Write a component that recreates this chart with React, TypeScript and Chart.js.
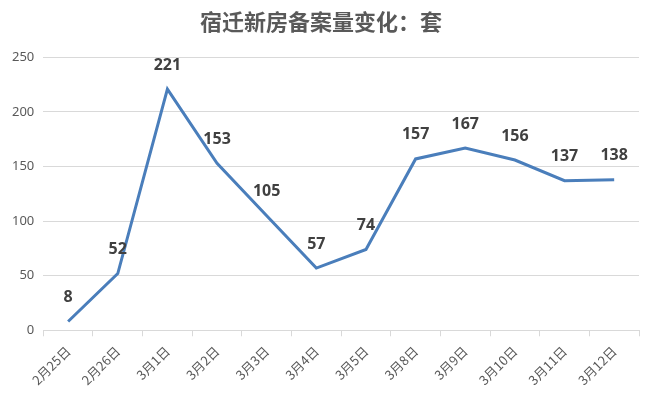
import React, { useEffect, useRef } from "react";
import { Chart, registerables } from "chart.js";

Chart.register(...registerables);

const categories = ["2月25日", "2月26日", "3月1日", "3月2日", "3月3日", "3月4日", "3月5日", "3月8日", "3月9日", "3月10日", "3月11日", "3月12日"];
const values = [8, 52, 221, 153, 105, 57, 74, 157, 167, 156, 137, 138];
const yTicks = [0, 50, 100, 150, 200, 250];
const titleText = "宿迁新房备案量变化：套";

const labelPlugin = {
  id: "valueLabels",
  afterDatasetsDraw(chart: any) {
    const ctx = chart.ctx;
    const meta = chart.getDatasetMeta(0);
    ctx.save();
    ctx.font = "bold 16px 'Noto Sans', 'DejaVu Sans', sans-serif";
    ctx.fillStyle = "#404040";
    ctx.textAlign = "center";
    ctx.textBaseline = "middle";
    meta.data.forEach((pt: any, i: number) => {
      ctx.fillText(String(values[i]), pt.x, pt.y - 24);
    });
    ctx.restore();
  },
};

export default function App() {
  const ref = useRef<HTMLCanvasElement | null>(null);
  useEffect(() => {
    document.body.style.margin = "0";
    const chart = new Chart(ref.current!, {
      type: "line",
      data: {
        labels: categories,
        datasets: [
          {
            data: values,
            borderColor: "#4a7ebb",
            borderWidth: 3,
            pointRadius: 0,
            tension: 0,
            fill: false,
          },
        ],
      },
      options: {
        responsive: false,
        animation: false,
        layout: { padding: { left: 3, right: 12, top: 6, bottom: 1 } },
        plugins: {
          legend: { display: false },
          tooltip: { enabled: false },
          title: {
            display: true,
            text: titleText,
            color: "#595959",
            font: { size: 22, family: "'Noto Sans CJK SC', sans-serif", weight: "bold" },
            padding: { top: 2, bottom: 23 },
          },
        },
        scales: {
          x: {
            offset: true,
            grid: {
              offset: true,
              drawOnChartArea: false,
              drawTicks: true,
              tickLength: 6,
              color: "#d9d9d9",
            },
            border: { display: true, color: "#d9d9d9" },
            ticks: {
              color: "#595959",
              font: { size: 13, family: "'Noto Sans CJK SC', sans-serif" },
              maxRotation: 45,
              minRotation: 45,
              autoSkip: false,
              padding: 7,
            },
          },
          y: {
            min: 0,
            max: 250,
            afterBuildTicks: (axis: any) => {
              axis.ticks = yTicks.map((v) => ({ value: v }));
            },
            grid: { color: "#d9d9d9", drawTicks: false },
            border: { display: false },
            ticks: {
              color: "#595959",
              font: { size: 13, family: "'Noto Sans', sans-serif" },
              padding: 9,
            },
          },
        },
      },
      plugins: [labelPlugin],
    });
    return () => chart.destroy();
  }, []);
  return (
    <div style={{ width: 651, height: 396 }}>
      <canvas ref={ref} width={651} height={396} />
    </div>
  );
}
